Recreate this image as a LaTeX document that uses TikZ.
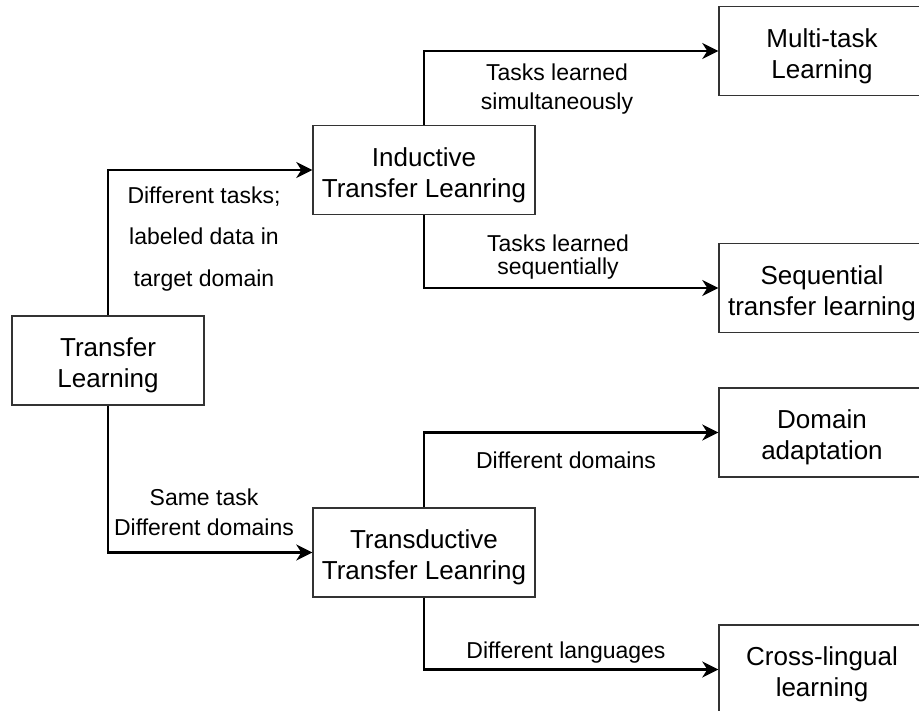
\documentclass[tikz,border=0pt]{standalone}
\usepackage{fontspec}
\setmainfont{Liberation Sans}
\usetikzlibrary{arrows.meta}
% invisible strut that lowers the two text lines inside each box a little
\newcommand\firstlinestrut{\rule{0pt}{29pt}}
\begin{document}
\begin{tikzpicture}[x=1pt,y=-1pt,
  box/.style={draw=black!80, line width=1.4pt, fill=white,
    minimum width=#1, minimum height=89pt, inner sep=0pt, align=center,
    font=\fontsize{26}{31}\selectfont},
  conn/.style={draw=black, line width=2.8pt,
    -{Stealth[length=16pt,width=16pt,inset=5pt]}},
  lbl/.style={inner sep=0pt, align=center},
]
\clip (0,0) rectangle (919,711);

% category boxes
\node[box=192pt] (tl)  at (108,360.5) {\firstlinestrut Transfer\\Learning};
\node[box=222pt] (ind) at (424,170)   {\firstlinestrut Inductive\\Transfer Leanring};
\node[box=222pt] (trd) at (424,552.5) {\firstlinestrut Transductive\\Transfer Leanring};
\node[box=206pt] (mtl) at (822,51)    {\firstlinestrut Multi-task\\Learning};
\node[box=206pt] (seq) at (822,288)   {\firstlinestrut Sequential\\transfer learning};
\node[box=206pt] (dom) at (822,432.5) {\firstlinestrut Domain\\adaptation};
\node[box=206pt] (cll) at (822,669.5) {\firstlinestrut Cross-lingual\\learning};

% elbow connectors
\draw[conn] (tl.north)  |- (ind.west);
\draw[conn] (tl.south)  |- (trd.west);
\draw[conn] (ind.north) |- (mtl.west);
\draw[conn] (ind.south) |- (seq.west);
\draw[conn] (trd.north) |- (dom.west);
\draw[conn] (trd.south) |- (cll.west);

% connector labels
\node[lbl, font=\fontsize{23}{41.5}\selectfont] (l1) at (204,239)
  {Different tasks;\\labeled data in\\target domain};
\node[lbl, font=\fontsize{23}{30}\selectfont] (l2) at (204,512)
  {Same task\\Different domains};
\node[lbl, font=\fontsize{23}{29}\selectfont] (l3) at (557,89)
  {Tasks learned\\simultaneously};
\node[lbl, font=\fontsize{23}{23}\selectfont] (l4) at (558,257)
  {Tasks learned\\sequentially};
\node[lbl, font=\fontsize{23}{28}\selectfont] (l5) at (566,460)
  {Different domains};
\node[lbl, font=\fontsize{23}{28}\selectfont] (l6) at (566,653)
  {Different languages};
\end{tikzpicture}
\end{document}
